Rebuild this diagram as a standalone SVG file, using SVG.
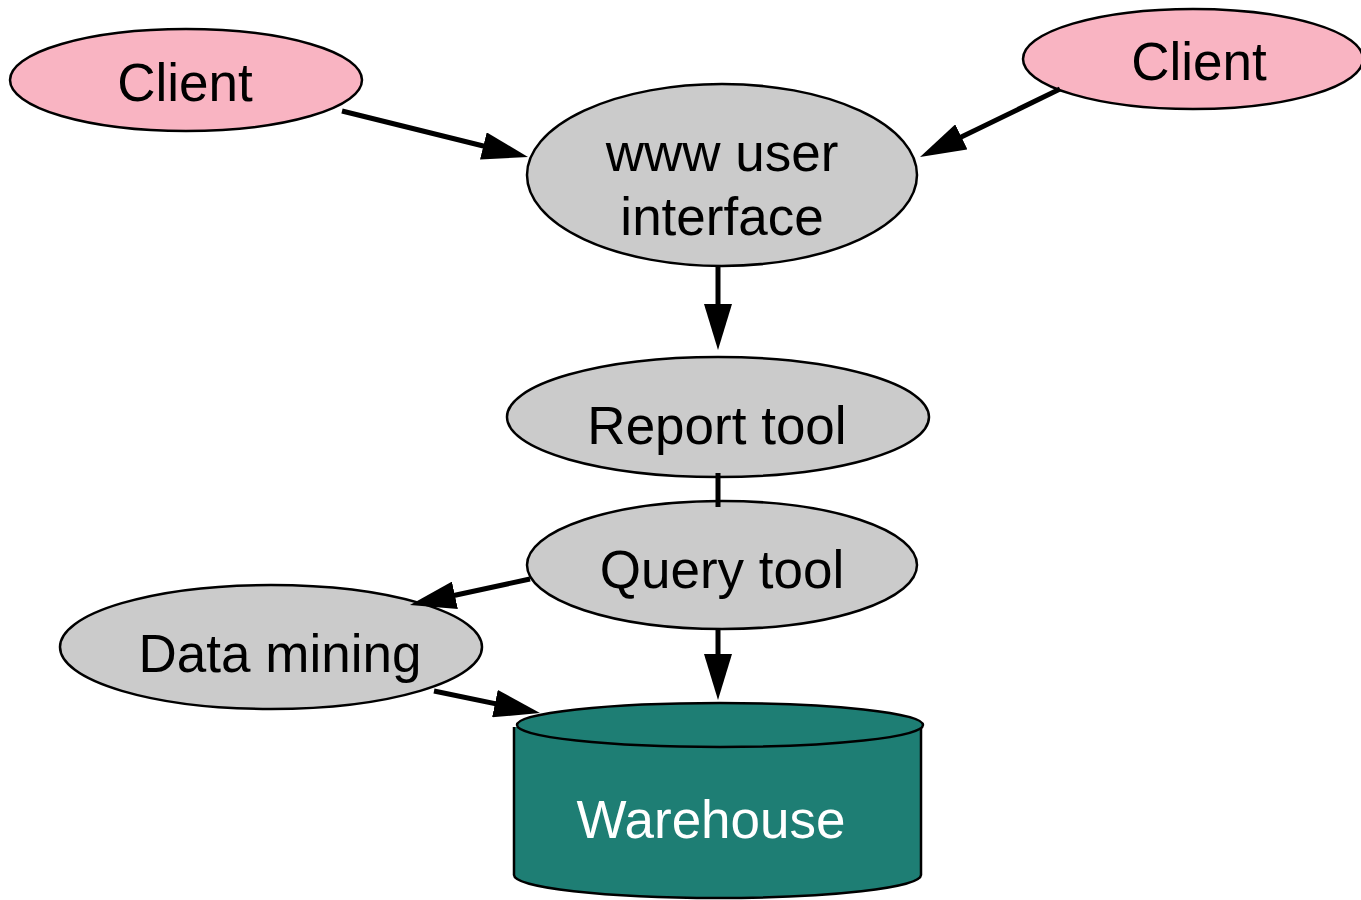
<svg xmlns="http://www.w3.org/2000/svg" width="1361" height="900" viewBox="0 0 1361 900">
  <style>
    .client { fill: #f9b4c2; stroke: #000; stroke-width: 2.5; }
    .tool { fill: #cbcbcb; stroke: #000; stroke-width: 2.5; }
    .db { fill: #1e7e74; stroke: #000; stroke-width: 2.5; }
    .lbl { font-family: "Liberation Sans", Arial, sans-serif; font-size: 53px; fill: #000; text-anchor: middle; }
    .lbl-w { fill: #fff; }
    .edge { stroke: #000; stroke-width: 5; fill: none; }
  </style>
  <defs>
    <marker id="arrow" markerUnits="userSpaceOnUse" markerWidth="46" markerHeight="28" refX="26" refY="14" orient="auto">
      <path d="M0,0 L46,14 L0,28 z" fill="#000"/>
    </marker>
  </defs>

  <rect width="1361" height="900" fill="#fff"/>

  <g id="client-left">
    <ellipse class="client" cx="186" cy="80" rx="176" ry="51"/>
    <text class="lbl" x="185" y="101">Client</text>
  </g>

  <g id="client-right">
    <ellipse class="client" cx="1193" cy="59" rx="170" ry="50"/>
    <text class="lbl" x="1199" y="80">Client</text>
  </g>

  <g id="www-ui">
    <ellipse class="tool" cx="722" cy="175" rx="195" ry="91"/>
    <text class="lbl" x="722" y="171">www user</text>
    <text class="lbl" x="722" y="235">interface</text>
  </g>

  <g id="report-tool">
    <ellipse class="tool" cx="718" cy="417" rx="211" ry="60"/>
    <text class="lbl" x="717" y="444">Report tool</text>
  </g>

  <g id="query-tool">
    <ellipse class="tool" cx="722" cy="565" rx="195" ry="64"/>
    <text class="lbl" x="722" y="588">Query tool</text>
  </g>

  <g id="data-mining">
    <ellipse class="tool" cx="271" cy="647" rx="211" ry="62"/>
    <text class="lbl" x="280" y="672">Data mining</text>
  </g>

  <g id="warehouse">
    <path class="db" d="M514,727 L514,875 A203,23 0 0 0 921,875 L921,727"/>
    <ellipse class="db" cx="720" cy="725" rx="203" ry="22"/>
    <text class="lbl lbl-w" x="711" y="838">Warehouse</text>
  </g>

  <!-- connectors, drawn on top of the nodes -->
  <g id="connectors">
    <line class="edge" x1="342" y1="111" x2="508.6" y2="152.2" marker-end="url(#arrow)"/>
    <line class="edge" x1="1060" y1="89" x2="938" y2="148.3" marker-end="url(#arrow)"/>
    <line class="edge" x1="718" y1="267" x2="718" y2="330" marker-end="url(#arrow)"/>
    <line class="edge" x1="718" y1="473" x2="718" y2="507"/>
    <line class="edge" x1="530" y1="579" x2="429.5" y2="600.8" marker-end="url(#arrow)"/>
    <line class="edge" x1="434" y1="691" x2="520.4" y2="708.9" marker-end="url(#arrow)"/>
    <line class="edge" x1="718" y1="630" x2="718" y2="680" marker-end="url(#arrow)"/>
  </g>
</svg>
